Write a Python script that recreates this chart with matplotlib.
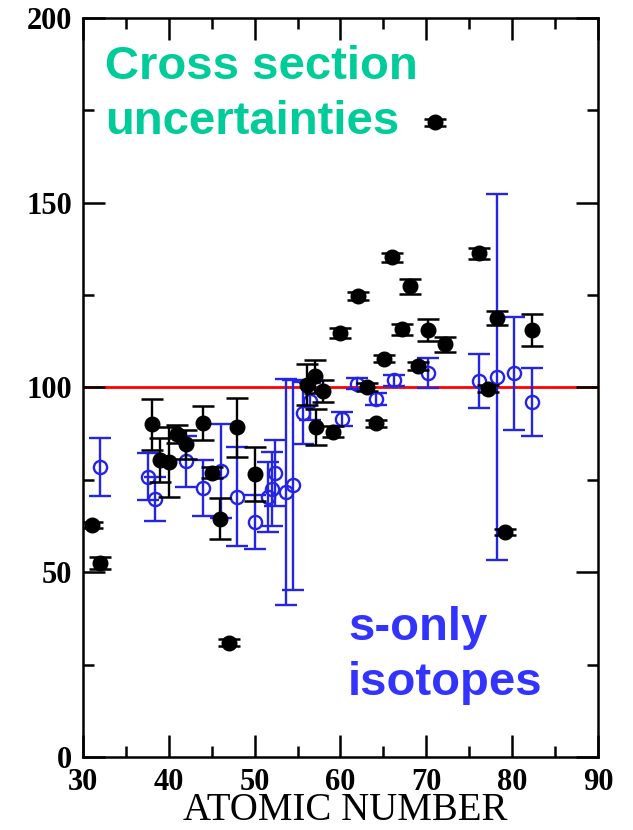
import numpy as np
import matplotlib
matplotlib.use("Agg")
import matplotlib.pyplot as plt
from matplotlib.ticker import MultipleLocator

# Cross sections relative to reference (in %), filled = all isotopes, open = s-only isotopes
z_all = [31, 32, 38, 39, 40, 41, 42, 44, 45, 46, 47, 48, 50,
         56.1, 57, 57.1, 58, 59.1, 60, 62, 63.1, 64.1, 65.1, 66, 67.2, 68.1,
         69, 70.2, 71, 72.2, 76.1, 77.2, 78.2, 79.2, 82.3]
wert_all = [62.8, 52.5, 90.0, 80.4, 79.8, 87.4, 84.6, 90.4, 76.9, 64.5, 30.9, 89.2, 76.7,
            100.8, 103.0, 89.3, 99.0, 88.0, 114.7, 124.8, 100.1, 90.3, 107.8, 135.2, 115.7, 127.4,
            105.8, 115.6, 171.8, 111.7, 136.3, 99.7, 118.8, 60.9, 115.6]
fehler_all = [0.8, 1.5, 7.0, 6.0, 9.5, 2.5, 4.0, 4.5, 1.5, 5.5, 1.0, 8.0, 7.3,
              5.5, 4.5, 5.0, 3.0, 1.5, 1.4, 1.1, 1.0, 1.0, 1.0, 1.2, 1.5, 2.0,
              1.0, 3.0, 1.0, 2.0, 1.5, 1.0, 1.9, 0.8, 4.3]

z_s = [32, 37.6, 38.4, 42, 44, 46.1, 47.9, 50, 51.6, 52, 52.4, 53.7, 54.5,
       55.6, 56.5, 60.2, 61.9, 64.1, 66.2, 70.2, 76.1, 78.2, 80.2, 82.3]
wert_s = [78.5, 75.9, 69.8, 80.0, 72.8, 77.4, 70.4, 63.5, 70.4, 72.5, 76.9, 71.7, 73.6,
          93.1, 96.3, 91.5, 101.0, 96.9, 102.0, 103.9, 101.8, 102.8, 103.9, 96.1]
fehler_s = [7.8, 6.3, 6.0, 7.0, 7.7, 12.7, 13.4, 7.3, 9.5, 10.0, 9.0, 30.7, 28.5,
            8.5, 5.0, 2.0, 1.5, 1.6, 1.5, 4.0, 7.3, 49.6, 15.3, 9.3]

referenz = 100

blau = '#2424e6'

fig = plt.figure(figsize=(6.33, 8.30), dpi=100)
ax = fig.add_axes([0.1311, 0.0880, 0.8136, 0.8903])

ax.axhline(referenz, color='red', lw=2.0, zorder=1)

ax.errorbar(z_s, wert_s, yerr=fehler_s, fmt='o', ms=9.5, mfc='none', mec=blau, mew=1.7,
            ecolor=blau, elinewidth=1.7, capsize=8, capthick=1.8, zorder=2)
ax.errorbar(z_all, wert_all, yerr=fehler_all, fmt='o', ms=10.5, color='black',
            ecolor='black', elinewidth=1.7, capsize=8, capthick=1.8, zorder=3)

ax.set_xlim(30, 90)
ax.set_ylim(0, 200)
ax.xaxis.set_major_locator(MultipleLocator(10))
ax.xaxis.set_minor_locator(MultipleLocator(5))
ax.yaxis.set_major_locator(MultipleLocator(50))
ax.yaxis.set_minor_locator(MultipleLocator(25))
ax.tick_params(which='both', direction='in', top=True, right=True, width=1.8)
ax.tick_params(which='major', length=16, pad=8)
ax.tick_params(which='minor', length=8)
for s in ax.spines.values():
    s.set_linewidth(1.8)

for lab in ax.get_xticklabels() + ax.get_yticklabels():
    lab.set_family('Liberation Serif')
    lab.set_fontweight('bold')
    lab.set_fontsize(22)

# axis title placed by hand so it stays inside the figure
fig.text(345 / 633, 1 - 820 / 830, 'ATOMIC NUMBER', family='Liberation Serif', fontsize=28,
         ha='center', va='baseline')

fig.text(105 / 633, 1 - 79 / 830, 'Cross section', family='Liberation Sans', weight='bold',
         fontsize=34, color='#00cc99', va='baseline')
fig.text(105 / 633, 1 - 134 / 830, 'uncertainties', family='Liberation Sans', weight='bold',
         fontsize=34, color='#00cc99', va='baseline')
fig.text(348 / 633, 1 - 640 / 830, 's-only', family='Liberation Sans', weight='bold',
         fontsize=34, color='#3333ff', va='baseline')
fig.text(348 / 633, 1 - 695 / 830, 'isotopes', family='Liberation Sans', weight='bold',
         fontsize=34, color='#3333ff', va='baseline')

fig.savefig('out.png', dpi=100)
